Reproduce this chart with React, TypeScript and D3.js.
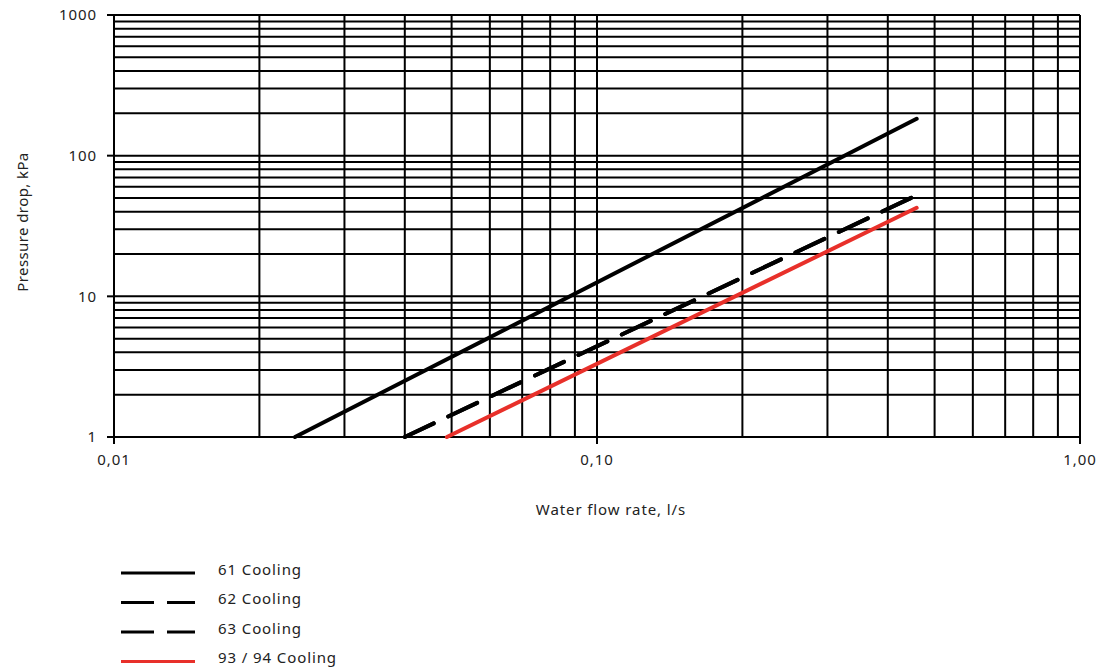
import React, { useEffect, useRef } from 'react';
import * as d3 from 'd3';

// series (flow l/s, pressure drop kPa)
const cooling61 = [
  { x: 0.0237, y: 1 },
  { x: 0.459, y: 183 },
];
const cooling62 = [
  { x: 0.040, y: 1 },
  { x: 0.459, y: 52.3 },
];
const cooling63 = [
  { x: 0.040, y: 1 },
  { x: 0.459, y: 52.3 },
];
const cooling9394 = [
  { x: 0.0489, y: 1 },
  { x: 0.459, y: 42.6 },
];

const xTicks = [0.01, 0.1, 1];
const xTickLabels = ['0,01', '0,10', '1,00'];
const yTicks = [1, 10, 100, 1000];
const yTickLabels = ['1', '10', '100', '1000'];

const seriesNames = ['61 Cooling', '62 Cooling', '63 Cooling', '93 / 94 Cooling'];
const seriesColors = ['#000', '#000', '#000', '#e8302a'];
const seriesDash = [null, '32 16', '32 16', null];

const App = () => {
  const ref = useRef(null);

  useEffect(() => {
    const W = 1102, H = 670;
    const left = 114, right = 1080, top = 15, bottom = 437;
    const font = '"Noto Sans", sans-serif';
    const textColor = '#222';

    const root = d3.select(ref.current);
    root.selectAll('*').remove();
    const svg = root.append('svg')
      .attr('width', W)
      .attr('height', H)
      .style('display', 'block');

    const x = d3.scaleLog().domain([0.01, 1]).range([left, right]);
    const y = d3.scaleLog().domain([1, 1000]).range([bottom, top]);

    // helper for the wide text style
    const txt = (sel) => sel
      .attr('font-family', font)
      .attr('font-size', 15)
      .attr('letter-spacing', 0.9)
      .attr('fill', textColor);

    // grid (all log minors)
    const grid = svg.append('g').attr('stroke', '#000').attr('stroke-width', 2);
    grid.selectAll('line.v')
      .data(x.ticks())
      .enter().append('line')
      .attr('x1', d => x(d)).attr('x2', d => x(d))
      .attr('y1', top).attr('y2', bottom);
    grid.selectAll('line.h')
      .data(y.ticks())
      .enter().append('line')
      .attr('class', 'h')
      .attr('x1', left).attr('x2', right)
      .attr('y1', d => y(d)).attr('y2', d => y(d));

    // major tick marks
    svg.append('g').selectAll('line')
      .data(yTicks)
      .enter().append('line')
      .attr('x1', left - 7).attr('x2', left)
      .attr('y1', d => y(d)).attr('y2', d => y(d))
      .attr('stroke', '#000').attr('stroke-width', 2);
    svg.append('g').selectAll('line')
      .data(xTicks)
      .enter().append('line')
      .attr('x1', d => x(d)).attr('x2', d => x(d))
      .attr('y1', bottom).attr('y2', bottom + 7)
      .attr('stroke', '#000').attr('stroke-width', 2);

    // tick labels
    svg.append('g').selectAll('text')
      .data(yTicks)
      .enter().append('text')
      .attr('x', left - 17)
      .attr('y', d => y(d))
      .attr('dy', '0.35em')
      .attr('text-anchor', 'end')
      .call(txt)
      .text((d, i) => yTickLabels[i]);
    svg.append('g').selectAll('text')
      .data(xTicks)
      .enter().append('text')
      .attr('x', d => x(d))
      .attr('y', bottom + 28)
      .attr('text-anchor', 'middle')
      .call(txt)
      .text((d, i) => xTickLabels[i]);

    // axis titles
    svg.append('text')
      .attr('x', (left + right) / 2 + 14).attr('y', 515)
      .attr('text-anchor', 'middle')
      .call(txt)
      .text('Water flow rate, l/s');
    svg.append('text')
      .attr('transform', `translate(28, ${(top + bottom) / 2 - 4}) rotate(-90)`)
      .attr('text-anchor', 'middle')
      .call(txt)
      .attr('letter-spacing', 0.4)
      .text('Pressure drop, kPa');

    // curves
    const line = d3.line().x(d => x(d.x)).y(d => y(d.y));
    const allSeries = [cooling61, cooling62, cooling63, cooling9394];
    allSeries.forEach((s, i) => {
      svg.append('path')
        .datum(s)
        .attr('d', line)
        .attr('fill', 'none')
        .attr('stroke', seriesColors[i])
        .attr('stroke-width', 4)
        .attr('stroke-linecap', 'round')
        .attr('stroke-dasharray', seriesDash[i]);
    });

    // legend
    const leg = svg.append('g');
    seriesNames.forEach((name, i) => {
      const ly = 573 + i * 29.5;
      leg.append('line')
        .attr('x1', 121).attr('x2', 195)
        .attr('y1', ly).attr('y2', ly)
        .attr('stroke', seriesColors[i])
        .attr('stroke-width', 3)
        .attr('stroke-dasharray', seriesDash[i] ? '33 13' : null);
      leg.append('text')
        .attr('x', 218).attr('y', ly)
        .attr('dy', '0.1em')
        .call(txt)
        .text(name);
    });

    return () => {
      root.selectAll('*').remove();
    };
  }, []);

  return <div ref={ref} style={{ position: 'absolute', left: 0, top: 0 }}></div>;
};

export default App;
